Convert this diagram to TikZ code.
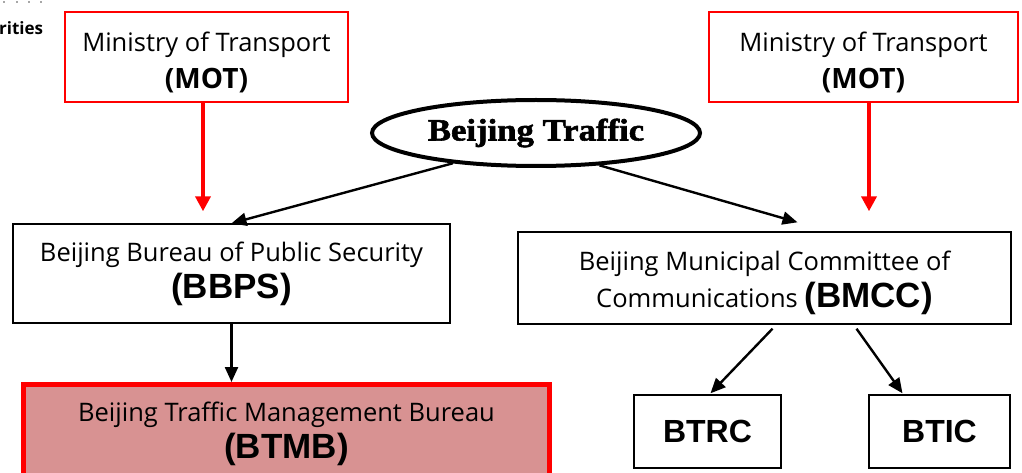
\documentclass[tikz,border=0pt]{standalone}
\usepackage{fontspec}
\setmainfont{Open Sans}
\newfontfamily\arialfont{Liberation Sans}
\newfontfamily\posterfont[FakeStretch=1.12,FakeBold=1.8]{Liberation Serif}
\usetikzlibrary{arrows.meta,shapes.geometric}
\definecolor{btmbfill}{RGB}{216,146,146}
\tikzset{
  txt/.style={font=\fontsize{25.5}{37}\selectfont, align=center, inner sep=0pt},
  redbox/.style={draw=red, line width=1.6pt, txt},
  plainbox/.style={draw=black, line width=1.4pt, txt},
  redarrow/.style={red, line width=4pt, -{Triangle[length=15pt,width=15pt]}},
  blkarrow/.style={black, line width=2.4pt, -{Triangle[length=15pt,width=13pt]}},
}
\newcommand{\acr}[2][35]{{\arialfont\bfseries\fontsize{#1}{#1}\selectfont #2}}
\newcommand{\motb}{{\fontsize{28}{28}\selectfont\bfseries (MOT)}}
\begin{document}
\begin{tikzpicture}[x=1pt,y=-1pt]
\useasboundingbox (0,0) rectangle (1022,473);
\clip (0,0) rectangle (1022,473);
% fragment at the top left
\foreach \dx [count=\i] in {4,17,29,41} {\fill[black!70] (\dx,2) circle (0.9pt) coordinate (dot\i);}
\node[anchor=west, inner sep=0pt, font=\fontsize{17}{17}\selectfont\bfseries] (frag) at (-1,28) {rities};
% boxes
\node[redbox, minimum width=283pt, minimum height=90pt] (motl) at (206.5,57) {\rule{0pt}{30pt}Ministry of Transport\\\motb};
\node[redbox, minimum width=309pt, minimum height=90pt] (motr) at (863.5,57) {\rule{0pt}{30pt}Ministry of Transport\\\motb};
\node[ellipse, draw=black, line width=4pt, minimum width=328pt, minimum height=66pt, inner sep=0pt] (ell) at (536,133)
  {\posterfont\bfseries\fontsize{31}{31}\selectfont Beijing Traffic};
\node[plainbox, minimum width=437pt, minimum height=99pt] (bbps) at (231.5,273.5) {Beijing Bureau of Public Security\\\acr{(BBPS)}};
\node[plainbox, minimum width=493pt, minimum height=92pt] (bmcc) at (764.5,278) {\rule{0pt}{30pt}Beijing Municipal Committee of\\Communications \acr{(BMCC)}};
\node[draw=red, fill=btmbfill, line width=5pt, txt, minimum width=526pt, minimum height=99pt] (btmb) at (286.5,434) {Beijing Traffic Management Bureau\\\acr{(BTMB)}};
\node[plainbox, minimum width=147pt, minimum height=73pt] (btrc) at (707.5,431.5) {\acr[32]{BTRC}};
\node[plainbox, minimum width=141pt, minimum height=73pt] (btic) at (939.5,431.5) {\acr[32]{BTIC}};
% connectors
\draw[redarrow] (motl.south -| 203,0) -- ([yshift=12pt]bbps.north -| 203,0);
\draw[redarrow] (motr.south -| 869,0) -- ([yshift=20pt]bmcc.north -| 869,0);
\draw[blkarrow] (ell.200) -- (bbps.north);
\draw[blkarrow] (ell.333) -- ([xshift=33pt,yshift=9pt]bmcc.north);
\draw[blkarrow] (bbps.south) -- (bbps.south |- btmb.north);
\draw[blkarrow] ([xshift=8pt,yshift=-4pt]bmcc.south) -- ([xshift=3pt,yshift=1pt]btrc.north);
\draw[blkarrow] ([xshift=92pt,yshift=-4pt]bmcc.south) -- ([xshift=-37pt,yshift=1pt]btic.north);
\end{tikzpicture}
\end{document}
